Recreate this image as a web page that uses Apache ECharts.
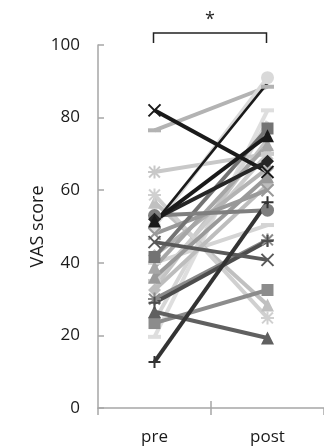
<!DOCTYPE html>
<html>
<head>
<meta charset="utf-8">
<script src="https://cdn.jsdelivr.net/npm/echarts@6/dist/echarts.min.js"></script>
<style>html,body{margin:0;padding:0;background:#fff}#c{width:324px;height:447px}</style>
</head>
<body>
<div id="c"></div>
<script>
const categories = ['pre', 'post'];
const yTicks = [0, 20, 40, 60, 80, 100];
// one subject per entry: VAS score before and after
const preValues  = [82, 76.5, 65, 51, 50, 51.5, 52, 53, 58.7, 56.7, 45.7, 12.7, 26.5, 23.4, 29, 19.6, 41.6, 38.8, 36, 32.5, 40, 30, 35, 42, 48, 24, 33];
const postValues = [65, 88.5, 70, 89.5, 91, 75, 68, 54.5, 24.8, 28.4, 40.8, 56.7, 19.3, 32.5, 46, 82, 77, 72.5, 63.7, 61.5, 50.4, 46.3, 70, 66, 60, 79, 74];
const significanceLabel = '*';

// styles (kept apart from the data)
const lineColors = ['#1a1a1a', '#b3b3b3', '#c8c8c8', '#1a1a1a', '#d9d9d9', '#1a1a1a', '#262626', '#7f7f7f', '#d0d0d0', '#c0c0c0', '#595959', '#333333', '#606060', '#8c8c8c', '#4d4d4d', '#dedede', '#737373', '#a6a6a6', '#999999', '#bdbdbd', '#d4d4d4', '#8a8a8a', '#cccccc', '#b3b3b3', '#999999', '#d6d6d6', '#c4c4c4'];
const markerKinds = ['x', 'dash', 'star', 'none', 'circle', 'triangle', 'diamond', 'circle', 'star', 'triangle', 'x', 'plus', 'triangle', 'square', 'plus', 'dash', 'square', 'triangle', 'triangle', 'diamond', 'dash', 'star', 'dash', 'diamond', 'x', 'none', 'none'];
const lineWidths = [4, 4, 4, 2.5, 4, 4, 4, 4, 4, 4, 4, 4, 4, 4, 4, 4, 4, 4, 4, 4, 4, 4, 4, 4, 4, 4, 4];
const drawOrder = [15, 25, 26, 1, 2, 4, 22, 20, 9, 8, 19, 23, 18, 17, 24, 16, 7, 21, 13, 12, 14, 10, 11, 0, 6, 5, 3];

const symbolDefs = {
  x: { symbol: 'path://M0,0L10,10M10,0L0,10', size: 12, stroke: true },
  star: { symbol: 'path://M0,0L10,10M10,0L0,10M5,-1L5,11M-1,5L11,5', size: 13, stroke: true },
  plus: { symbol: 'path://M5,0L5,10M0,5L10,5', size: 12, stroke: true },
  dash: { symbol: 'rect', size: [13, 4], stroke: false },
  circle: { symbol: 'circle', size: 13, stroke: false },
  triangle: { symbol: 'triangle', size: 13, stroke: false },
  diamond: { symbol: 'diamond', size: 13, stroke: false },
  square: { symbol: 'rect', size: 12, stroke: false },
  none: { symbol: 'none', size: 0, stroke: false }
};

const series = drawOrder.map(function (i) {
  const def = symbolDefs[markerKinds[i]];
  const c = lineColors[i];
  return {
    type: 'line',
    name: 'S' + (i + 1),
    data: [preValues[i], postValues[i]],
    symbol: def.symbol,
    symbolSize: def.size,
    showSymbol: true,
    animation: false,
    lineStyle: { color: c, width: lineWidths[i] },
    itemStyle: def.stroke ? { color: c, borderColor: c, borderWidth: 2 } : { color: c, borderWidth: 0 },
    emphasis: { disabled: true },
    z: 2
  };
});

const chart = echarts.init(document.getElementById('c'), null, { renderer: 'canvas' });
const font = "'Open Sans', 'Liberation Sans', sans-serif";
chart.setOption({
  animation: false,
  backgroundColor: '#fff',
  grid: { left: 98, right: 0, top: 45, bottom: 39, containLabel: false },
  xAxis: {
    type: 'category',
    data: categories,
    boundaryGap: true,
    axisLine: { lineStyle: { color: '#a6a6a6', width: 1.5 } },
    axisTick: { show: true, alignWithLabel: false, length: 7, lineStyle: { color: '#a6a6a6', width: 1.5 } },
    axisLabel: { color: '#1a1a1a', fontSize: 17, fontFamily: font, margin: 21 }
  },
  yAxis: {
    type: 'value',
    min: yTicks[0],
    max: yTicks[yTicks.length - 1],
    interval: yTicks[1] - yTicks[0],
    name: 'VAS score',
    nameLocation: 'middle',
    nameGap: 51,
    nameMoveOverlap: false,
    nameTextStyle: { color: '#1a1a1a', fontSize: 18, fontFamily: font },
    axisLine: { show: true, lineStyle: { color: '#a6a6a6', width: 1.5 } },
    axisTick: { show: true, inside: true, length: 6, lineStyle: { color: '#a6a6a6', width: 1.5 } },
    splitLine: { show: false },
    axisLabel: { color: '#1a1a1a', fontSize: 17, fontFamily: font, margin: 18 }
  },
  series: series
});

// significance bracket and the inner half of the middle x tick, placed via the axes
const pPre = chart.convertToPixel({ xAxisIndex: 0, yAxisIndex: 0 }, [categories[0], yTicks[yTicks.length - 1]]);
const pPost = chart.convertToPixel({ xAxisIndex: 0, yAxisIndex: 0 }, [categories[1], yTicks[yTicks.length - 1]]);
const pZero = chart.convertToPixel({ xAxisIndex: 0, yAxisIndex: 0 }, [categories[0], yTicks[0]]);
const midX = (pPre[0] + pPost[0]) / 2;
const topY = pPre[1] - 12;
chart.setOption({
  graphic: [
    { type: 'polyline', shape: { points: [[pPre[0] - 1, pPre[1] - 2], [pPre[0] - 1, topY], [pPost[0] - 1, topY], [pPost[0] - 1, pPre[1] - 2]] },
      style: { stroke: '#222', lineWidth: 1.5, fill: null }, z: 10 },
    { type: 'text', x: midX - 1, y: topY - 13, style: { text: significanceLabel, fontSize: 18, fontFamily: font, fill: '#222', align: 'center', verticalAlign: 'middle' }, z: 10 },
    { type: 'line', shape: { x1: midX, y1: pZero[1], x2: midX, y2: pZero[1] - 7 }, style: { stroke: '#a6a6a6', lineWidth: 1.5 }, z: 10 }
  ]
});
</script>
</body>
</html>
